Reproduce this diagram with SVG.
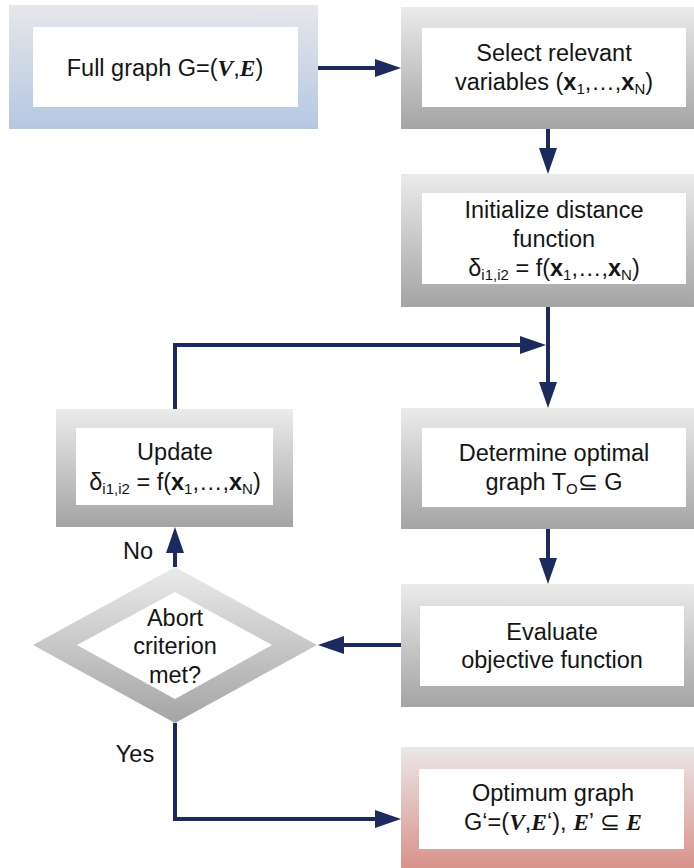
<svg xmlns="http://www.w3.org/2000/svg" width="694" height="868" viewBox="0 0 694 868">
  <defs>
    <linearGradient id="gGray" x1="0" y1="0" x2="0" y2="1">
      <stop offset="0" stop-color="#ebebeb"/>
      <stop offset="1" stop-color="#a4a4a4"/>
    </linearGradient>
    <linearGradient id="gBlue" x1="0" y1="0" x2="0" y2="1">
      <stop offset="0" stop-color="#e6e7ea"/>
      <stop offset="1" stop-color="#b5c7e1"/>
    </linearGradient>
    <linearGradient id="gRed" x1="0" y1="0" x2="0" y2="1">
      <stop offset="0" stop-color="#ebe7e7"/>
      <stop offset="1" stop-color="#d9928c"/>
    </linearGradient>
    <marker id="arrow" markerUnits="userSpaceOnUse" markerWidth="26" markerHeight="18" refX="0" refY="9" orient="auto" overflow="visible">
      <path d="M0,0 L26,9 L0,18 z" fill="#1d2a5e"/>
    </marker>
  </defs>
  <style>
    .inner { fill: #ffffff; }
    .t { font-family: "Liberation Sans", Arial, sans-serif; font-size: 23.5px; fill: #151515; text-anchor: middle; }
    .b { font-weight: bold; }
    .s { font-size: 15px; }
    .sc { font-family: "Liberation Serif", "Times New Roman", serif; font-weight: bold; font-style: italic; }
    .conn { fill: none; stroke: #1d2a5e; stroke-width: 4; marker-end: url(#arrow); }
  </style>

  <!-- connectors -->
  <g id="connectors">
    <path class="conn" d="M318,68 H375"/>
    <path class="conn" d="M548,129 V148"/>
    <path class="conn" d="M548,307 V382"/>
    <path class="conn" d="M175,409 V345 H520"/>
    <path class="conn" d="M548,529 V558"/>
    <path class="conn" d="M401,645 H344"/>
    <path class="conn" d="M175,567 V553"/>
    <path class="conn" d="M175,723 V819 H375"/>
  </g>

  <!-- start node -->
  <g id="full-graph">
    <rect x="9" y="5" width="309" height="124" fill="url(#gBlue)"/>
    <rect class="inner" x="33" y="27" width="265" height="80"/>
    <text class="t" x="165" y="76">Full graph G=(<tspan class="sc">V</tspan>,<tspan class="sc">E</tspan>)</text>
  </g>

  <g id="select-variables">
    <rect x="401" y="7" width="293" height="122" fill="url(#gGray)"/>
    <rect class="inner" x="422" y="28" width="264" height="79"/>
    <text class="t" x="554" y="61">Select relevant</text>
    <text class="t" x="554" y="90">variables (<tspan class="b">x</tspan><tspan class="s" dy="4">1</tspan><tspan dy="-4">,…,</tspan><tspan class="b">x</tspan><tspan class="s" dy="4">N</tspan><tspan dy="-4">)</tspan></text>
  </g>

  <g id="init-distance">
    <rect x="401" y="174" width="293" height="133" fill="url(#gGray)"/>
    <rect class="inner" x="422" y="193" width="264" height="91"/>
    <text class="t" x="554" y="218">Initialize distance</text>
    <text class="t" x="554" y="247">function</text>
    <text class="t" x="554" y="276">δ<tspan class="s" dy="4">i1,i2</tspan><tspan dy="-4"> = f(</tspan><tspan class="b">x</tspan><tspan class="s" dy="4">1</tspan><tspan dy="-4">,…,</tspan><tspan class="b">x</tspan><tspan class="s" dy="4">N</tspan><tspan dy="-4">)</tspan></text>
  </g>

  <g id="update">
    <rect x="56" y="409" width="237" height="118" fill="url(#gGray)"/>
    <rect class="inner" x="76" y="428" width="197" height="77"/>
    <text class="t" x="175" y="460">Update</text>
    <text class="t" x="175" y="490">δ<tspan class="s" dy="4">i1,i2</tspan><tspan dy="-4"> = f(</tspan><tspan class="b">x</tspan><tspan class="s" dy="4">1</tspan><tspan dy="-4">,…,</tspan><tspan class="b">x</tspan><tspan class="s" dy="4">N</tspan><tspan dy="-4">)</tspan></text>
  </g>

  <g id="determine-graph">
    <rect x="401" y="408" width="293" height="121" fill="url(#gGray)"/>
    <rect class="inner" x="422" y="428" width="264" height="79"/>
    <text class="t" x="554" y="461">Determine optimal</text>
    <text class="t" x="554" y="490">graph T<tspan class="s" dy="4">O</tspan><tspan dy="-4">⊆ G</tspan></text>
  </g>

  <g id="evaluate">
    <rect x="401" y="584" width="293" height="123" fill="url(#gGray)"/>
    <rect class="inner" x="420" y="606" width="264" height="80"/>
    <text class="t" x="552" y="640">Evaluate</text>
    <text class="t" x="552" y="668">objective function</text>
  </g>

  <g id="abort-decision">
    <polygon points="33,645 175,567 317,645 175,723" fill="url(#gGray)"/>
    <polygon class="inner" points="77,645 175,592 272,645 175,699"/>
    <text class="t" x="175" y="626">Abort</text>
    <text class="t" x="175" y="654">criterion</text>
    <text class="t" x="175" y="683">met?</text>
  </g>

  <g id="optimum-graph">
    <rect x="401" y="747" width="293" height="121" fill="url(#gRed)"/>
    <rect class="inner" x="419" y="769" width="265" height="80"/>
    <text class="t" x="553" y="801">Optimum graph</text>
    <text class="t" x="553" y="830">G‘=(<tspan class="sc">V</tspan>,<tspan class="sc">E</tspan>‘), <tspan class="sc">E</tspan>’ ⊆ <tspan class="sc">E</tspan></text>
  </g>

  <g id="labels">
    <text class="t" x="138" y="559">No</text>
    <text class="t" x="135" y="762">Yes</text>
  </g>
</svg>
